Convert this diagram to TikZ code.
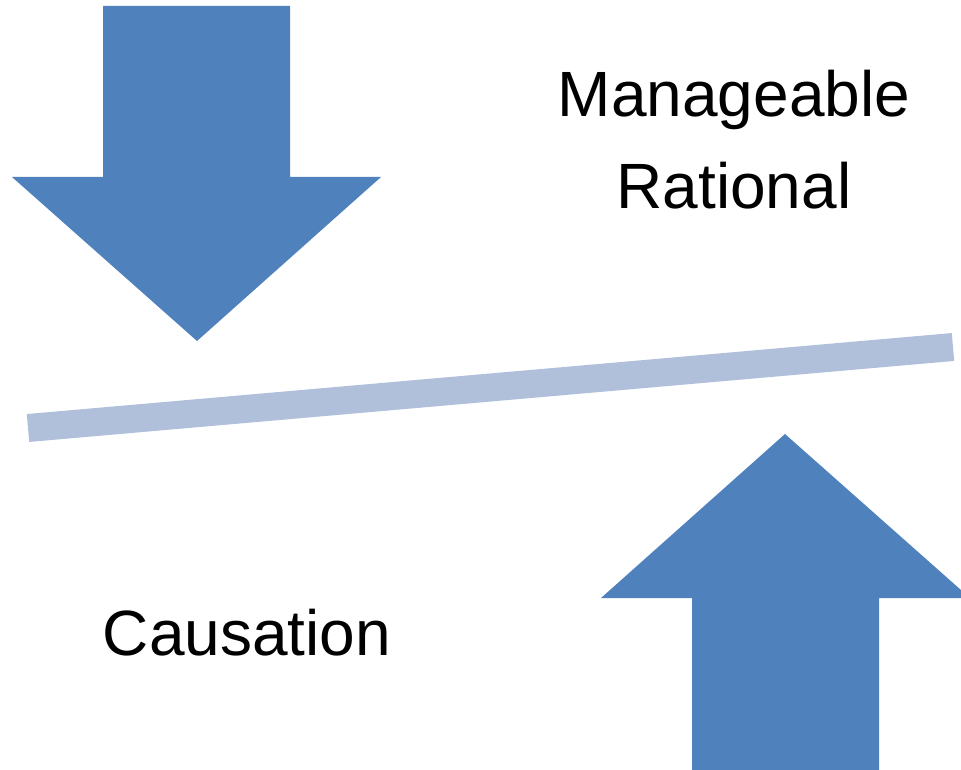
\documentclass[tikz,border=0pt]{standalone}
\usepackage{fontspec}
\setmainfont{Liberation Sans}
\definecolor{arrowblue}{HTML}{4F81BD}
\definecolor{barblue}{HTML}{B0C0DB}
\begin{document}
\begin{tikzpicture}[x=1pt,y=-1pt,
  blockarrow/.style={fill=arrowblue,draw=none},
  label/.style={font=\fontsize{64}{77}\selectfont,anchor=base,inner sep=0pt}]
\useasboundingbox (0,0) rectangle (961,770);
% down arrow
\fill[blockarrow] (103,6) -- (290,6) -- (290,177) -- (381,177) -- (197,341)
  -- (12,177) -- (103,177) -- cycle;
% up arrow
\fill[blockarrow] (785,434) -- (970,598) -- (879,598) -- (879,770) -- (692,770)
  -- (692,598) -- (601,598) -- cycle;
% tilted bar
\draw[barblue,line width=28pt,line cap=butt] (28,428) -- (953,347);
% labels
\node[label] (man) at (734,117) {Manageable};
\node[label] (rat) at (734,208) {Rational};
\node[label] (cau) at (247,655) {Causation};
\end{tikzpicture}
\end{document}
